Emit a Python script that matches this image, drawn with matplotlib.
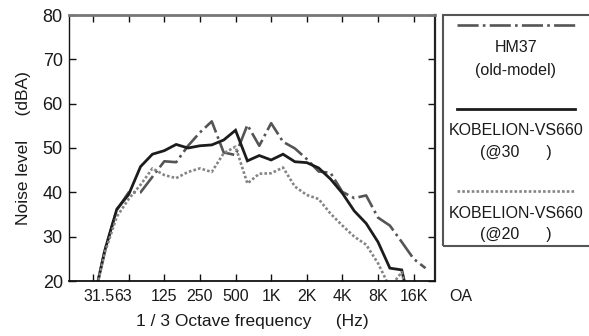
import matplotlib
matplotlib.use("Agg")
import matplotlib.pyplot as plt
from matplotlib.lines import Line2D
from matplotlib.patches import Rectangle
from matplotlib.transforms import ScaledTranslation

plt.rcParams['font.family'] = ['Liberation Sans', 'DejaVu Sans']

# 1/3 octave band centre frequencies (index 0 = 20 Hz)
bands = ["20", "25", "31.5", "40", "50", "63", "80", "100", "125", "160", "200",
         "250", "315", "400", "500", "630", "800", "1K", "1.25K", "1.6K", "2K",
         "2.5K", "3.15K", "4K", "5K", "6.3K", "8K", "10K", "12.5K", "16K", "20K"]

# Tick labels on the octave bands
tick_bands = ["31.5", "63", "125", "250", "500", "1K", "2K", "4K", "8K", "16K"]
overall_label = "OA"

# Series values (dBA), starting at the 31.5 Hz band
hm37 = [15, 27, 36, 40, 40, 43.5, 47, 46.8, 50.5, 53.5, 56, 49, 48.4, 55.2, 50.5,
        55.6, 51.4, 49.9, 47.5, 44.7, 44.4, 40.1, 38.7, 39.3, 34.3, 32.5, 28.8,
        25, 22.9]
vs660_30 = [15, 27, 36.2, 39.5, 45.8, 48.6, 49.4, 50.8, 50.0, 50.5, 50.7, 51.8,
            54.0, 47.1, 48.3, 47.3, 48.6, 46.9, 46.7, 45.5, 43.0, 39.8, 35.8,
            33.0, 28.8, 22.9, 22.5, 11]
vs660_20 = [15, 26.5, 34.5, 38.5, 41.7, 45.4, 43.9, 43.2, 44.6, 45.4, 44.6, 48.8,
            50.3, 42.0, 44.2, 44.3, 45.6, 41.3, 39.4, 38.5, 35.2, 32.5, 30.0,
            28.2, 24.0, 18.5, 22.0, 10]

series_names = ["HM37", "KOBELION-VS660", "KOBELION-VS660"]
series_sub = ["(old-model)", "(@30      )", "(@20      )"]

yticks = [20, 30, 40, 50, 60, 70, 80]

W, H = 589, 336
fig = plt.figure(figsize=(W / 100, H / 100), dpi=100)

def fx(p):
    return p / W

def fy(p):
    return 1 - p / H

ax_l, ax_r, ax_t, ax_b = 69.3, 435, 15, 281
ax = fig.add_axes([fx(ax_l), fy(ax_b), fx(ax_r) - fx(ax_l), fy(ax_t) - fy(ax_b)])

start = bands.index("31.5")
styles = [
    dict(color="#555555", lw=1.9, ls=(0, (8, 1.6, 1, 1.6))),
    dict(color="#1c1c1c", lw=2.0, ls="-"),
    dict(color="#858585", lw=1.9, ls=(0, (1, 0.8))),
]
for vals, st in zip([hm37, vs660_30, vs660_20], styles):
    xs = list(range(start, start + len(vals)))
    ax.plot(xs, vals, solid_joinstyle="miter", **st)

ax.set_xlim(0, 30.8)
ax.set_ylim(20, 80)
ax.set_yticks(yticks)
ax.set_yticklabels([str(v) for v in yticks], fontsize=13, color="#1a1a1a")
tick_pos = [bands.index(b) for b in tick_bands]
ax.set_xticks(tick_pos)
ax.set_xticklabels(tick_bands, fontsize=11.5, color="#1a1a1a")
ax.tick_params(axis="both", direction="in", length=5, width=1, top=True,
               right=True, labeltop=False, labelright=False, color="#111111")
ax.tick_params(axis="x", pad=5.5)
ax.tick_params(axis="y", pad=4.7)

# crowd the 31.5 / 63 labels together as in the original
ticks = ax.xaxis.get_major_ticks()
ticks[0].label1.set_transform(ticks[0].label1.get_transform()
                              + ScaledTranslation(0.055, 0, fig.dpi_scale_trans))
ticks[1].label1.set_transform(ticks[1].label1.get_transform()
                              + ScaledTranslation(-0.057, 0, fig.dpi_scale_trans))

ax.annotate(overall_label, xy=(33.0, 0), xycoords=ax.get_xaxis_transform(),
            xytext=(0, -5.5), textcoords="offset points", ha="center", va="top",
            fontsize=11.5, color="#1a1a1a", annotation_clip=False)

for s in ["left", "bottom"]:
    ax.spines[s].set_color("#111111")
    ax.spines[s].set_linewidth(1.0)
ax.spines["bottom"].set_linewidth(1.3)
ax.spines["right"].set_color("#222222")
ax.spines["right"].set_linewidth(1.6)
ax.spines["top"].set_color("#777777")
ax.spines["top"].set_linewidth(2.0)

ax.set_ylabel("Noise level     (dBA)", fontsize=12.5, color="#1a1a1a")
ax.yaxis.set_label_coords(-0.105, 0.5)
ax.set_xlabel("1 / 3 Octave frequency     (Hz)", fontsize=12.5, color="#1a1a1a",
              va="top")
ax.xaxis.set_label_coords(0.5, -0.125)

# legend box (cut by right edge of the figure)
fig.add_artist(Rectangle((fx(443), fy(246)), fx(620) - fx(443), fy(15) - fy(246),
                         transform=fig.transFigure, fill=False,
                         edgecolor="#555555", lw=1.5))
line_y = [25, 109, 191]
name_y = [47, 131, 213]
sub_y = [70, 153, 235]
for st, ly, ny, sy, nm, sb in zip(styles, line_y, name_y, sub_y, series_names, series_sub):
    fig.add_artist(Line2D([fx(457), fx(575)], [fy(ly), fy(ly)],
                          transform=fig.transFigure, **st))
    fig.text(fx(516), fy(ny), nm, ha="center", va="center", fontsize=11.5,
             color="#1a1a1a")
    fig.text(fx(516), fy(sy), sb, ha="center", va="center", fontsize=11.5,
             color="#1a1a1a")

fig.savefig("out.png", dpi=100)
